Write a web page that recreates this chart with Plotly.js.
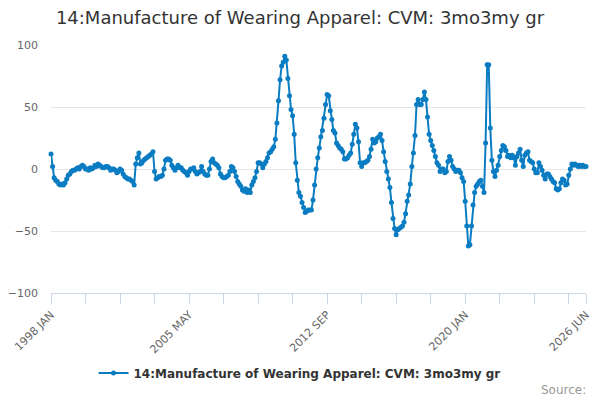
<!DOCTYPE html>
<html>
<head>
<meta charset="utf-8">
<script src="https://cdn.plot.ly/plotly-3.0.1.min.js"></script>
<style>html,body{margin:0;padding:0;background:#fff;}#chart{width:600px;height:400px;}</style>
</head>
<body>
<div id="chart"></div>
<script>
// Monthly values, 1998 JAN .. 2026 JUN
var values = [
 12, 2, -7, -9, -10, -12, -13, -12, -13, -11, -8, -5,
 -4, -2, -1, -1, 0, 1, 0, 2, 3, 2, 0, 0,
 -1, 1, 0, 1, 3, 2, 4, 3, 2, 1, 1, 2,
 2, 1, -1, 0, 0, -1, -3, -2, 0, -1, -4, -6,
 -7, -8, -8, -9, -10, -13, 4, 9, 13, 4, 5, 7,
 8, 9, 10, 11, 12, 14, -2, -8, -7, -6, -6, -5,
 0, 7, 8, 8, 7, 3, 1, -1, 1, 3, 1, 1,
 -1, -2, -3, -5, -2, 0, 0, 1, -2, -4, -3, -2,
 2, -2, -4, -5, -5, 0, 6, 8, 5, 4, 3, 1,
 -4, -6, -7, -7, -6, -5, -2, 2, 1, -2, -6, -10,
 -12, -14, -17, -18, -16, -19, -17, -19, -13, -10, -7, -2,
 5, 5, 4, 1, 4, 6, 9, 13, 14, 16, 18, 24,
 37, 55, 72, 83, 86, 91, 88, 73, 59, 48, 43, 28,
 5, -9, -19, -22, -27, -31, -35, -34, -33, -33, -33, -25,
 -13, 0, 9, 17, 26, 31, 41, 52, 60, 59, 47, 40,
 31, 29, 21, 19, 17, 16, 14, 8, 8, 9, 11, 13,
 20, 28, 36, 33, 22, 5, 2, 5, 5, 6, 7, 10,
 16, 24, 21, 22, 25, 26, 28, 23, 14, 6, -2, -8,
 -15, -27, -40, -48, -53, -49, -48, -47, -46, -43, -36, -26,
 -21, -12, 2, 13, 27, 52, 56, 52, 52, 56, 62, 56,
 42, 28, 23, 19, 15, 10, 5, 3, -2, 0, 0, -3,
 -2, 6, 10, 7, 2, 0, -2, -1, -1, -3, -7, -10,
 -26, -46, -62, -61, -46, -29, -19, -14, -12, -10, -9, -14,
 -19, 21, 84, 84, 33, 7, -2, -6, -1, 3, 10, 15,
 19, 18, 15, 10, 11, 9, 11, 9, 3, 10, 13, 16,
 7, 2, 11, 13, 14, 7, 6, 5, 0, -3, -3, 5,
 2, -1, -5, -8, -4, -4, -6, -8, -10, -11, -16, -17,
 -16, -11, -8, -9, -13, -12, -5, 0, 4, 3, 4, 3,
 2, 3, 2, 3, 2, 2
];
var monthNames = ["JAN","FEB","MAR","APR","MAY","JUN","JUL","AUG","SEP","OCT","NOV","DEC"];
var startYear = 1998;
var categories = values.map(function(v, i){
  return (startYear + Math.floor(i/12)) + " " + monthNames[i % 12];
});
var labelledTicks = ["1998 JAN", "2005 MAY", "2012 SEP", "2020 JAN", "2026 JUN"];
var seriesName = "14:Manufacture of Wearing Apparel: CVM: 3mo3my gr";

var tickIdx = [];
for (var k = 0; k < categories.length; k += 22) tickIdx.push(k);
if (tickIdx[tickIdx.length-1] !== categories.length-1) tickIdx.push(categories.length-1);
var tickvals = tickIdx.map(function(i){ return categories[i]; });
var ticktext = tickvals.map(function(c){ return labelledTicks.indexOf(c) >= 0 ? c : ""; });

var color = "#0a7cc2";
var trace = {
  x: categories, y: values, type: "scatter", mode: "lines+markers",
  name: seriesName,
  line: {color: color, width: 2},
  marker: {color: color, size: 5},
  cliponaxis: false
};

var layout = {
  width: 600, height: 400,
  margin: {l: 51, r: 14, t: 45, b: 107},
  paper_bgcolor: "#fff", plot_bgcolor: "#fff",
  font: {family: "DejaVu Sans, sans-serif", color: "#666"},
  title: {text: "14:Manufacture of Wearing Apparel: CVM: 3mo3my gr",
          font: {size: 18, color: "#333", family: "DejaVu Sans, sans-serif"},
          x: 0.5, xanchor: "center", y: 0.955, yanchor: "middle", yref: "container"},
  xaxis: {
    type: "category", range: [0, categories.length-1],
    tickmode: "array", tickvals: tickvals, ticktext: ticktext,
    tickangle: -45, ticks: "outside", ticklen: 10, tickcolor: "#ccd6eb",
    showline: true, linecolor: "#ccd6eb", linewidth: 1,
    showgrid: false, zeroline: false,
    tickfont: {size: 11, color: "#666"}
  },
  yaxis: {
    range: [-100, 100], tickvals: [-100, -50, 0, 50, 100],
    showgrid: true, gridcolor: "#e6e6e6", zeroline: false, showline: false,
    tickfont: {size: 11, color: "#666"}, ticks: "", ticklabelstandoff: 12
  },
  showlegend: true,
  legend: {orientation: "h", x: 0.4645, xanchor: "center", y: -0.323, yanchor: "middle",
           font: {size: 12, color: "#333", family: "DejaVu Sans, sans-serif", weight: "bold"}},
  annotations: [{text: "Source:", xref: "paper", yref: "paper", x: 1.004, y: -0.391,
                 xanchor: "right", yanchor: "middle", showarrow: false,
                 font: {size: 12, color: "#999"}}]
};

Plotly.newPlot("chart", [trace], layout, {displayModeBar: false, staticPlot: true});
</script>
</body>
</html>
